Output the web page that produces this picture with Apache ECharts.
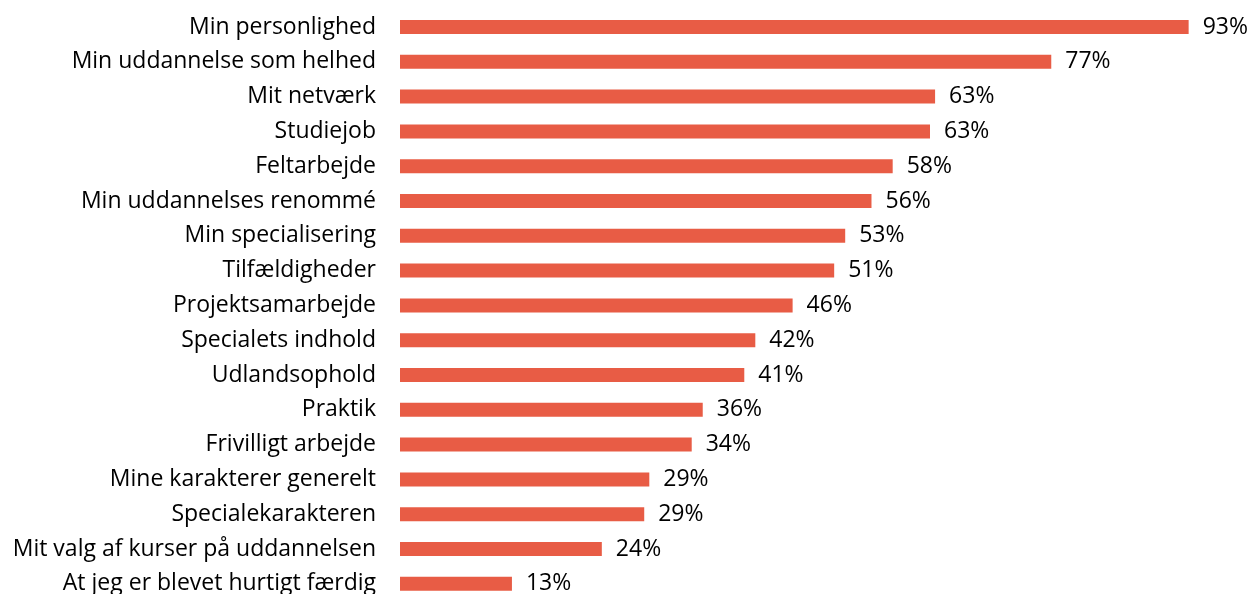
<!DOCTYPE html>
<html>
<head>
<meta charset="utf-8">
<script src="https://cdn.jsdelivr.net/npm/echarts@6/dist/echarts.min.js"></script>
<style>
  html, body { margin: 0; padding: 0; background: #fff; }
  #chart { width: 1252px; height: 594px; }
</style>
</head>
<body>
<div id="chart"></div>
<script>
// categories, top to bottom
const categories = [
  'Min personlighed',
  'Min uddannelse som helhed',
  'Mit netværk',
  'Studiejob',
  'Feltarbejde',
  'Min uddannelses renommé',
  'Min specialisering',
  'Tilfældigheder',
  'Projektsamarbejde',
  'Specialets indhold',
  'Udlandsophold',
  'Praktik',
  'Frivilligt arbejde',
  'Mine karakterer generelt',
  'Specialekarakteren',
  'Mit valg af kurser på uddannelsen',
  'At jeg er blevet hurtigt færdig'
];
// percent (labels show them rounded)
const values = [93.0, 76.8, 63.1, 62.5, 58.1, 55.6, 52.5, 51.2, 46.3, 41.9, 40.6, 35.7, 34.4, 29.4, 28.8, 23.8, 13.2];

const chart = echarts.init(document.getElementById('chart'));

chart.setOption({
  animation: false,
  grid: {
    left: 400, right: 4, top: 9.6, height: 591.6,
    containLabel: false,
    outerBoundsMode: 'none'
  },
  xAxis: {
    type: 'value',
    min: 0,
    max: 100,
    show: false
  },
  yAxis: {
    type: 'category',
    inverse: true,
    data: categories,
    axisLine: { show: false },
    axisTick: { show: false },
    axisLabel: {
      margin: 24,
      color: '#000',
      fontSize: 23,
      fontFamily: 'Open Sans'
    }
  },
  series: [{
    type: 'bar',
    data: values,
    barWidth: 14,
    itemStyle: { color: '#E85C45' },
    label: {
      show: true,
      position: 'right',
      distance: 14,
      formatter: p => Math.round(p.value) + '%',
      color: '#000',
      fontSize: 23,
      fontFamily: 'Open Sans'
    }
  }]
});
</script>
</body>
</html>
